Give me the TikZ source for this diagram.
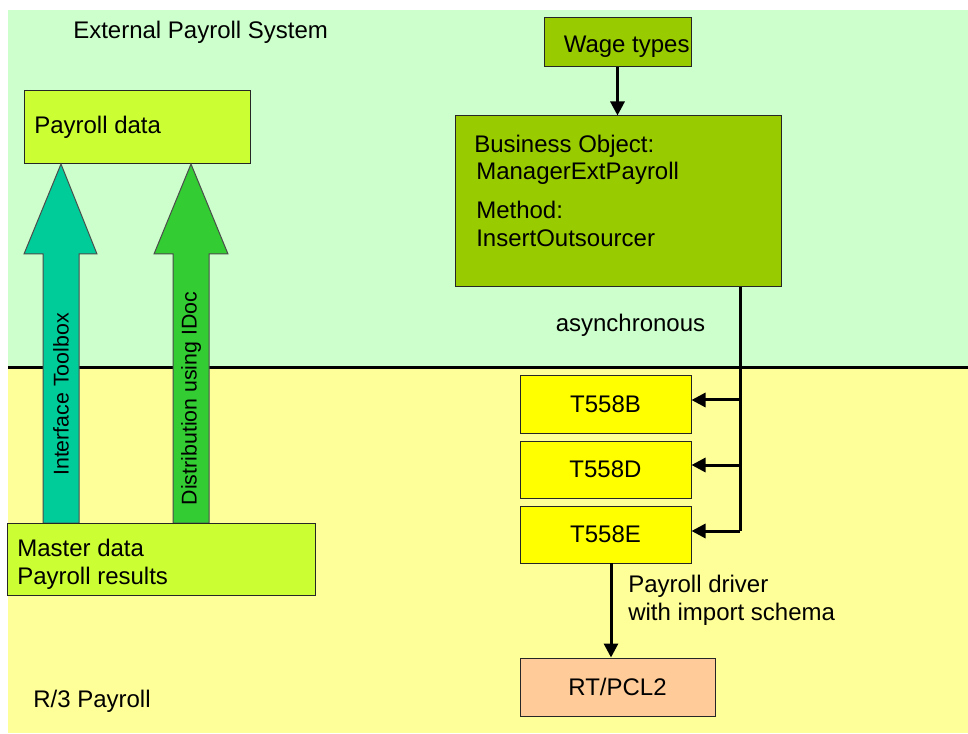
\documentclass[tikz,border=0pt]{standalone}
\usepackage{fontspec}
\setmainfont{Liberation Sans}
\usetikzlibrary{arrows.meta}
\definecolor{bgGreen}{HTML}{CCFFCC}
\definecolor{bgYellow}{HTML}{FFFF99}
\definecolor{limeBox}{HTML}{CCFF33}
\definecolor{oliveBox}{HTML}{99CC00}
\definecolor{tealArrow}{HTML}{00CC99}
\definecolor{greenArrow}{HTML}{33CC33}
\definecolor{tabYellow}{HTML}{FFFF00}
\definecolor{peachBox}{HTML}{FFCC99}
\begin{document}
\begin{tikzpicture}[x=0.75pt,y=-0.75pt,
  box/.style={draw=black!85, line width=0.75pt, inner sep=0pt},
  sz/.style 2 args={minimum width={#1*0.75pt}, minimum height={#2*0.75pt}},
  txt/.style={inner sep=0pt, font=\fontsize{18}{21.6}\selectfont},
  vtxt/.style={inner sep=0pt, rotate=90, font=\fontsize{16}{19}\selectfont},
  conn/.style={line width=2.25pt, -{Triangle[width=10.5pt,length=10.5pt]}},
  bigarrow/.style={draw=black!70, line width=0.75pt}
]
\useasboundingbox (0,0) rectangle (968,734);
% backgrounds
\fill[white] (0,0) rectangle (968,734);
\fill[bgGreen] (8,10) rectangle (968,368);
\fill[bgYellow] (8,368) rectangle (968,733);
\draw[line width=2.25pt] (8,368) -- (968,368);

% left side
\node[box, fill=limeBox, sz={226}{73}] (payroll) at (137,127.5) {};
\node[txt, anchor=base west] (payrollT) at (34,134) {Payroll data};

\path[bigarrow, fill=tealArrow] (43,523) -- (43,254) -- (24,254) -- (61,164) -- (97,254) -- (79,254) -- (79,523) -- cycle;
\path[bigarrow, fill=greenArrow] (173,523) -- (173,254) -- (154,254) -- (191,164) -- (228,254) -- (209,254) -- (209,523) -- cycle;
\node[vtxt] (toolboxT) at (61,394.5) {Interface Toolbox};
\node[vtxt] (idocT) at (191,398.5) {Distribution using IDoc};

\node[box, fill=limeBox, sz={308}{72}] (master) at (161,559) {};
\node[txt, anchor=base west] (masterT1) at (17,556) {Master data};
\node[txt, anchor=base west] (masterT2) at (17,584) {Payroll results};

\node[txt, anchor=base west] (extT) at (73,39) {External Payroll System};
\node[txt, anchor=base west] (r3T) at (33,707) {R/3 Payroll};

% right side
\node[box, fill=oliveBox, sz={147}{49}] (wage) at (617.5,42.5) {};
\node[txt, anchor=base west] (wageT) at (563.5,53) {Wage types};

\node[box, fill=oliveBox, sz={326}{171}] (bo) at (618,201.5) {};
\node[txt, anchor=base west] (boT1) at (474,153) {Business Object:};
\node[txt, anchor=base west] (boT2) at (476,180) {ManagerExtPayroll};
\node[txt, anchor=base west] (boT3) at (476,219) {Method:};
\node[txt, anchor=base west] (boT4) at (476,247) {InsertOutsourcer};

\draw[conn] (wage.south) -- (wage.south |- bo.north);

\node[txt, anchor=base west] (asyncT) at (555.5,332) {asynchronous};

\node[box, fill=tabYellow, sz={171}{57}, txt] (tb) at (605.5,404.5) {T558B};
\node[box, fill=tabYellow, sz={171}{57}, txt] (td) at (605.5,469.5) {T558D};
\node[box, fill=tabYellow, sz={171}{57}, txt] (te) at (605.5,534.5) {T558E};
\node[box, fill=peachBox, sz={195}{58}, txt] (rt) at (617.5,687) {RT/PCL2};

\coordinate (busTop) at (740,287);
\coordinate (busB) at (740,400);
\coordinate (busD) at (740,465);
\coordinate (busE) at (740,531);
\draw[line width=2.25pt] (busTop) -- (busE);
\draw[conn] (busB) -- (busB -| tb.east);
\draw[conn] (busD) -- (busD -| td.east);
\draw[conn] (busE) -- (busE -| te.east);

\coordinate (drv) at (611,563);
\draw[conn] (drv) -- (drv |- rt.north);
\node[txt, anchor=base west] (drvT1) at (628,592) {Payroll driver};
\node[txt, anchor=base west] (drvT2) at (628,620) {with import schema};
\end{tikzpicture}
\end{document}
